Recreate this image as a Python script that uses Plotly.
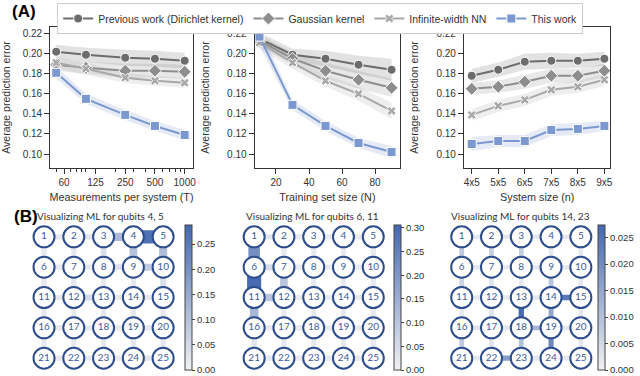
import math
import plotly.graph_objects as go

W, H = 640, 376

# ---- (A) average prediction error, mean and band half-width ----
METHODS = ["Previous work (Dirichlet kernel)", "Gaussian kernel", "Infinite-width NN", "This work"]

meas_x = [50, 100, 250, 500, 1000]
meas_dirichlet = [0.202, 0.199, 0.196, 0.195, 0.193]
meas_gaussian = [0.189, 0.186, 0.183, 0.183, 0.182]
meas_nn = [0.191, 0.185, 0.176, 0.173, 0.171]
meas_this = [0.181, 0.155, 0.139, 0.128, 0.119]
meas_dirichlet_err = [0.007, 0.007, 0.008, 0.008, 0.008]
meas_gaussian_err = [0.006, 0.006, 0.007, 0.007, 0.007]
meas_nn_err = [0.006, 0.006, 0.005, 0.005, 0.005]
meas_this_err = [0.006, 0.005, 0.005, 0.005, 0.005]

train_x = [10, 30, 50, 70, 90]
train_dirichlet = [0.215, 0.199, 0.195, 0.189, 0.184]
train_gaussian = [0.213, 0.195, 0.183, 0.174, 0.166]
train_nn = [0.211, 0.191, 0.173, 0.160, 0.143]
train_this = [0.217, 0.149, 0.128, 0.111, 0.102]
train_dirichlet_err = [0.006, 0.006, 0.008, 0.009, 0.011]
train_gaussian_err = [0.006, 0.006, 0.008, 0.009, 0.009]
train_nn_err = [0.006, 0.006, 0.006, 0.007, 0.008]
train_this_err = [0.009, 0.005, 0.005, 0.005, 0.006]

size_x = ["4x5", "5x5", "6x5", "7x5", "8x5", "9x5"]
size_dirichlet = [0.178, 0.184, 0.192, 0.193, 0.193, 0.195]
size_gaussian = [0.165, 0.167, 0.172, 0.178, 0.178, 0.183]
size_nn = [0.139, 0.148, 0.154, 0.164, 0.167, 0.174]
size_this = [0.110, 0.113, 0.113, 0.124, 0.125, 0.128]
size_dirichlet_err = [0.007, 0.007, 0.008, 0.008, 0.007, 0.007]
size_gaussian_err = [0.006, 0.006, 0.007, 0.007, 0.007, 0.007]
size_nn_err = [0.006, 0.006, 0.006, 0.006, 0.006, 0.006]
size_this_err = [0.007, 0.006, 0.006, 0.006, 0.006, 0.005]

y_ticks = [0.10, 0.12, 0.14, 0.16, 0.18, 0.20, 0.22]
meas_ticks = [60, 125, 250, 500, 1000]
meas_minor = [40, 50, 70, 80, 90, 100, 200, 300, 400, 600, 700, 800, 900]

# ---- (B) edge importance on the 5x5 lattice ----
# horizontal edges: 5 rows x 4 ; vertical edges: 4 rows x 5
q45_h = [[0.02, 0.03, 0.12, 0.27],
         [0.02, 0.02, 0.04, 0.08],
         [0.02, 0.05, 0.02, 0.02],
         [0.02, 0.02, 0.02, 0.02],
         [0.02, 0.02, 0.02, 0.03]]
q45_v = [[0.02, 0.02, 0.04, 0.10, 0.11],
         [0.02, 0.02, 0.02, 0.02, 0.04],
         [0.02, 0.02, 0.02, 0.02, 0.02],
         [0.02, 0.02, 0.02, 0.02, 0.02]]

q611_h = [[0.03, 0.02, 0.02, 0.02],
          [0.05, 0.02, 0.02, 0.02],
          [0.10, 0.02, 0.02, 0.02],
          [0.02, 0.02, 0.02, 0.02],
          [0.02, 0.02, 0.02, 0.02]]
q611_v = [[0.22, 0.02, 0.02, 0.02, 0.02],
          [0.30, 0.10, 0.02, 0.02, 0.02],
          [0.13, 0.02, 0.02, 0.02, 0.02],
          [0.03, 0.02, 0.02, 0.02, 0.02]]

q1423_h = [[0.002, 0.002, 0.002, 0.002],
           [0.002, 0.002, 0.002, 0.002],
           [0.002, 0.002, 0.002, 0.024],
           [0.003, 0.002, 0.012, 0.002],
           [0.002, 0.017, 0.002, 0.002]]
q1423_v = [[0.008, 0.007, 0.007, 0.002, 0.002],
           [0.006, 0.003, 0.002, 0.009, 0.002],
           [0.002, 0.003, 0.027, 0.015, 0.002],
           [0.008, 0.003, 0.010, 0.021, 0.002]]

q45_max, q611_max, q1423_max = 0.288, 0.306, 0.0274
q45_ticks = [0.00, 0.05, 0.10, 0.15, 0.20, 0.25]
q611_ticks = [0.00, 0.05, 0.10, 0.15, 0.20, 0.25, 0.30]
q1423_ticks = [0.000, 0.005, 0.010, 0.015, 0.020, 0.025]

# styles
COLORS = ["#6c6c6c", "#8e8e8e", "#a8a8a8", "#7b98d0"]
BANDS = ["rgba(108,108,108,0.20)", "rgba(142,142,142,0.20)",
         "rgba(168,168,168,0.20)", "rgba(123,152,208,0.20)"]
SYMBOLS = ["circle", "diamond", "x", "square"]
SIZES = [9, 10, 8, 9]
EDGE_SCALE = [[0, "#f2f2f2"], [1, "#4468b0"]]
FONT = "Liberation Sans, Arial, sans-serif"
BFONT = "Lato, Liberation Sans, sans-serif"


def dom_x(a, b):
    return [a / W, b / W]


def dom_y(top, bottom):
    return [1 - bottom / H, 1 - top / H]


fig = go.Figure()

panels = [
    ("x", "y", meas_x, [meas_dirichlet, meas_gaussian, meas_nn, meas_this],
     [meas_dirichlet_err, meas_gaussian_err, meas_nn_err, meas_this_err]),
    ("x2", "y2", train_x, [train_dirichlet, train_gaussian, train_nn, train_this],
     [train_dirichlet_err, train_gaussian_err, train_nn_err, train_this_err]),
    ("x3", "y3", size_x, [size_dirichlet, size_gaussian, size_nn, size_this],
     [size_dirichlet_err, size_gaussian_err, size_nn_err, size_this_err]),
]

for p, (xa, ya, xs, series, errs) in enumerate(panels):
    # bands first
    for i, (ys, es) in enumerate(zip(series, errs)):
        up = [v + e for v, e in zip(ys, es)]
        lo = [v - e for v, e in zip(ys, es)]
        fig.add_trace(go.Scatter(x=xs, y=up, mode="lines", line=dict(width=0),
                                 xaxis=xa, yaxis=ya, showlegend=False, hoverinfo="skip"))
        fig.add_trace(go.Scatter(x=xs, y=lo, mode="lines", line=dict(width=0),
                                 fill="tonexty", fillcolor=BANDS[i],
                                 xaxis=xa, yaxis=ya, showlegend=False, hoverinfo="skip"))
    for i, ys in enumerate(series):
        fig.add_trace(go.Scatter(
            x=xs, y=ys, mode="lines+markers", name=METHODS[i],
            line=dict(color=COLORS[i], width=2),
            marker=dict(symbol=SYMBOLS[i], size=SIZES[i], color=COLORS[i],
                        line=dict(color="white", width=1)),
            xaxis=xa, yaxis=ya, showlegend=(p == 0)))


def add_grid(xa, ya, h_vals, v_vals, vmax, ticks, tfmt, cb_x):
    hx, hy, hv = [], [], []
    for r, row in enumerate(h_vals):
        for c, val in enumerate(row):
            hx.append(c + 0.5)
            hy.append(r)
            hv.append(val)
    vx, vy, vv = [], [], []
    for r, row in enumerate(v_vals):
        for c, val in enumerate(row):
            vx.append(c)
            vy.append(r + 0.5)
            vv.append(val)
    common = dict(colorscale=EDGE_SCALE, cmin=0, cmax=vmax, size=21.5)
    fig.add_trace(go.Scatter(
        x=hx, y=hy, mode="markers", xaxis=xa, yaxis=ya, showlegend=False, hoverinfo="skip",
        marker=dict(symbol="line-ew-open", color=hv,
                    line=dict(width=[4.5 + 32 * v for v in hv]),
                    showscale=True,
                    colorbar=dict(x=cb_x, xanchor="left", xpad=0, ypad=0,
                                  y=1 - 297.5 / H, yanchor="middle", len=145 / H,
                                  thickness=7, outlinewidth=1, outlinecolor="#444",
                                  tickvals=ticks, tickformat=tfmt, ticks="outside",
                                  ticklen=3, tickcolor="#444",
                                  tickfont=dict(size=9.5, color="#333", family=FONT)),
                    **common)))
    fig.add_trace(go.Scatter(
        x=vx, y=vy, mode="markers", xaxis=xa, yaxis=ya, showlegend=False, hoverinfo="skip",
        marker=dict(symbol="line-ns-open", color=vv,
                    line=dict(width=[4.5 + 32 * v for v in vv]),
                    showscale=False, **common)))
    nx = [c for r in range(5) for c in range(5)]
    ny = [r for r in range(5) for c in range(5)]
    labels = [str(k + 1) for k in range(25)]
    fig.add_trace(go.Scatter(
        x=nx, y=ny, mode="markers+text", text=labels, textposition="middle center",
        textfont=dict(size=10, color="#3b5b9b", family=BFONT),
        marker=dict(symbol="circle", size=21, color="white",
                    line=dict(color="#2e4d8c", width=2)),
        xaxis=xa, yaxis=ya, showlegend=False, hoverinfo="skip"))


add_grid("x4", "y4", q45_h, q45_v, q45_max, q45_ticks, ".2f", 180 / W)
add_grid("x5", "y5", q611_h, q611_v, q611_max, q611_ticks, ".2f", 392.7 / W)
add_grid("x6", "y6", q1423_h, q1423_v, q1423_max, q1423_ticks, ".3f", 600 / W)

axis_style = dict(showline=True, mirror=True, linecolor="#333", linewidth=1.2,
                  ticks="outside", ticklen=5, tickwidth=1, tickcolor="#333",
                  showgrid=False, zeroline=False,
                  tickfont=dict(size=10, color="#333", family=FONT))
ytitle = dict(text="Average prediction error", font=dict(size=10.5, color="#333", family=FONT))
yax = dict(range=[0.0861, 0.2266], tickvals=y_ticks, tickformat=".2f", title=ytitle, **axis_style)


def xtitle(t):
    return dict(text=t, font=dict(size=10.8, color="#333", family=FONT), standoff=6)


top = dom_y(27, 168)
grid_y = dom_y(221.7, 373.3)
hidden = dict(visible=False, showgrid=False, zeroline=False)

fig.update_layout(
    width=W, height=H, margin=dict(l=0, r=0, t=0, b=0),
    paper_bgcolor="white", plot_bgcolor="white",
    font=dict(family=FONT, color="#333"),
    xaxis=dict(domain=dom_x(43, 188), anchor="y", type="log",
               range=[math.log10(43.5), math.log10(1208)],
               tickvals=meas_ticks, ticktext=[str(t) for t in meas_ticks],
               minor=dict(tickvals=meas_minor, ticks="outside", ticklen=2.5, tickcolor="#333"),
               title=xtitle("Measurements per system (T)"), **axis_style),
    yaxis=dict(domain=top, anchor="x", **yax),
    xaxis2=dict(domain=dom_x(251, 399), anchor="y2", range=[7.1, 95.2],
                tickvals=[20, 40, 60, 80], title=xtitle("Training set size (N)"), **axis_style),
    yaxis2=dict(domain=top, anchor="x2", **yax),
    xaxis3=dict(domain=dom_x(464, 613), anchor="y3", type="category", range=[-0.29, 5.23],
                title=xtitle("System size (n)"), **axis_style),
    yaxis3=dict(domain=top, anchor="x3", **yax),
    xaxis4=dict(domain=dom_x(21.5, 173), anchor="y4", range=[-0.5, 4.5], **hidden),
    yaxis4=dict(domain=grid_y, anchor="x4", range=[4.5, -0.5], **hidden),
    xaxis5=dict(domain=dom_x(235.3, 386.8), anchor="y5", range=[-0.5, 4.5], **hidden),
    yaxis5=dict(domain=grid_y, anchor="x5", range=[4.5, -0.5], **hidden),
    xaxis6=dict(domain=dom_x(446.5, 598), anchor="y6", range=[-0.5, 4.5], **hidden),
    yaxis6=dict(domain=grid_y, anchor="x6", range=[4.5, -0.5], **hidden),
    legend=dict(orientation="h", x=50 / W, y=1 - 3 / H, xanchor="left", yanchor="top",
                traceorder="normal",
                bordercolor="#cccccc", borderwidth=1, bgcolor="white",
                font=dict(size=10.5, color="#333", family=FONT)),
)

annotations = [
    dict(text="<b>(A)</b>", x=2 / W, y=1 - 12 / H, xanchor="left", yanchor="middle",
         font=dict(size=17, color="black", family=FONT)),
    dict(text="<b>(B)</b>", x=4 / W, y=1 - 216 / H, xanchor="left", yanchor="middle",
         font=dict(size=17, color="black", family=FONT)),
]
for cx, q in [(94, "4, 5"), (310, "6, 11"), (521, "14, 23")]:
    annotations.append(dict(text="Visualizing ML for qubits " + q, x=cx / W, y=1 - 216 / H,
                            xanchor="center", yanchor="middle", showarrow=False,
                            font=dict(size=10, color="#333", family=BFONT)))
for a in annotations:
    a.setdefault("showarrow", False)
    a["xref"] = "paper"
    a["yref"] = "paper"
fig.update_layout(annotations=annotations)

# the page's default body margin would push the figure 8px off the window
fig.write_html("out.html", config={"displayModeBar": False},
               post_script="document.body.style.margin='0';")
